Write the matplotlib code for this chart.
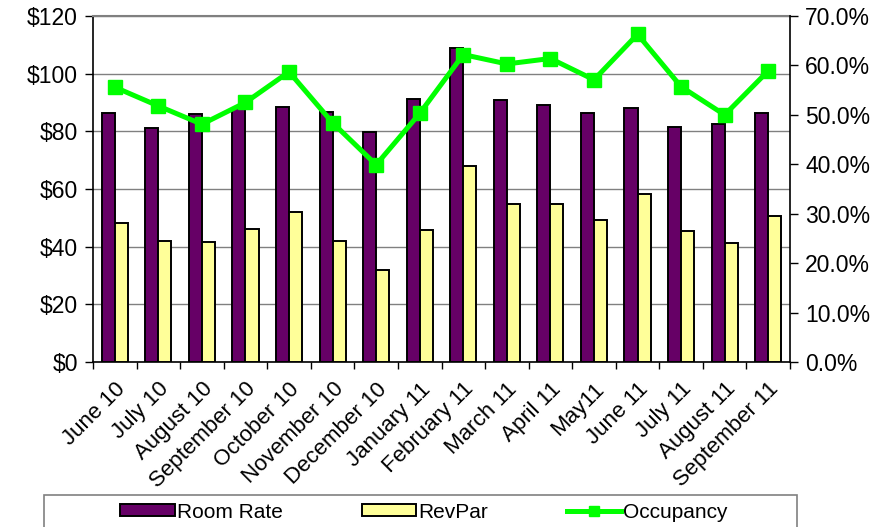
import matplotlib
matplotlib.use("Agg")
import matplotlib.pyplot as plt
import numpy as np
from matplotlib.patches import Rectangle
from matplotlib.ticker import FuncFormatter, MultipleLocator, FixedLocator

plt.rcParams['font.family'] = ['Liberation Sans', 'DejaVu Sans']

months = ["June 10", "July 10", "August 10", "September 10", "October 10",
          "November 10", "December 10", "January 11", "February 11", "March 11",
          "April 11", "May11", "June 11", "July 11", "August 11", "September 11"]
room_rate = [86.5, 81.3, 86.0, 88.0, 88.4, 86.6, 79.7, 91.1, 109.0, 90.9,
             89.3, 86.5, 88.0, 81.6, 82.5, 86.3]
revpar = [48.1, 42.1, 41.5, 46.0, 51.9, 42.0, 31.8, 45.8, 67.9, 54.7,
          54.9, 49.4, 58.4, 45.5, 41.2, 50.8]
occupancy = [55.6, 51.8, 48.1, 52.5, 58.7, 48.4, 39.9, 50.3, 62.2, 60.3,
             61.4, 57.1, 66.3, 55.7, 50.0, 58.9]

PURPLE = "#660066"
YELLOW = "#FFFF99"
GREEN = "#00FF00"

fig = plt.figure(figsize=(8.82, 5.27), dpi=100)
ax = fig.add_axes([93 / 882, 1 - 362 / 527, (790 - 93) / 882, (362 - 16) / 527])

x = np.arange(len(months))
w = 0.3
ax.bar(x - w / 2, room_rate, width=w, color=PURPLE, edgecolor="black",
       linewidth=1.4, zorder=3, label="Room Rate")
ax.bar(x + w / 2, revpar, width=w, color=YELLOW, edgecolor="black",
       linewidth=1.4, zorder=3, label="RevPar")

ax.set_xlim(-0.5, len(months) - 0.5)
ax.set_ylim(0, 120)
ax.yaxis.set_major_locator(MultipleLocator(20))
ax.yaxis.set_major_formatter(FuncFormatter(lambda v, p: f"${v:.0f}"))
ax.grid(axis="y", color="#808080", linewidth=1.0, zorder=0)
ax.set_axisbelow(True)

# category boundary ticks, labels centred on each category
ax.xaxis.set_major_locator(FixedLocator(np.arange(-0.5, len(months), 1.0)))
ax.xaxis.set_major_formatter(FuncFormatter(lambda v, p: ""))
ax.xaxis.set_minor_locator(FixedLocator(x))
ax.set_xticklabels(months, minor=True, rotation=45, ha="right",
                   rotation_mode="anchor", fontsize=16)
ax.tick_params(axis="x", which="minor", length=0, pad=12)
ax.tick_params(axis="x", which="major", length=5, width=1, direction="out")
ax.tick_params(axis="y", length=6, width=1, labelsize=16.5, pad=5)

for side in ("left", "bottom"):
    ax.spines[side].set_color("black")
    ax.spines[side].set_linewidth(1.2)
ax.spines["top"].set_color("#808080")
ax.spines["top"].set_linewidth(1.5)
ax.spines["right"].set_visible(False)

ax2 = ax.twinx()
ax2.plot(x, occupancy, color=GREEN, linewidth=3.6, marker="s",
         markersize=10.5, zorder=5, label="Occupancy")
ax2.set_ylim(0, 70)
ax2.yaxis.set_major_locator(MultipleLocator(10))
ax2.yaxis.set_major_formatter(FuncFormatter(lambda v, p: f"{v:.1f}%"))
ax2.tick_params(axis="y", length=6, width=1, labelsize=16.5, pad=5)
ax2.spines["right"].set_color("black")
ax2.spines["right"].set_linewidth(1.2)
for side in ("left", "top", "bottom"):
    ax2.spines[side].set_visible(False)

# legend frame running off the bottom edge
fig.patches.append(Rectangle((44 / 882, -0.05), (797 - 44) / 882, 0.05 + 1 - 495 / 527,
                             transform=fig.transFigure, fill=False,
                             edgecolor="#808080", linewidth=1.2))
h1, l1 = ax.get_legend_handles_labels()
h2, l2 = ax2.get_legend_handles_labels()
fig.legend(h1 + h2, l1 + l2, loc="center", bbox_to_anchor=(424 / 882, 1 - 512 / 527),
           ncol=3, frameon=False, fontsize=15, handlelength=2.6, handleheight=0.55,
           handletextpad=0.1, columnspacing=3.8, markerscale=0.75)

fig.savefig("out.png", dpi=100)
